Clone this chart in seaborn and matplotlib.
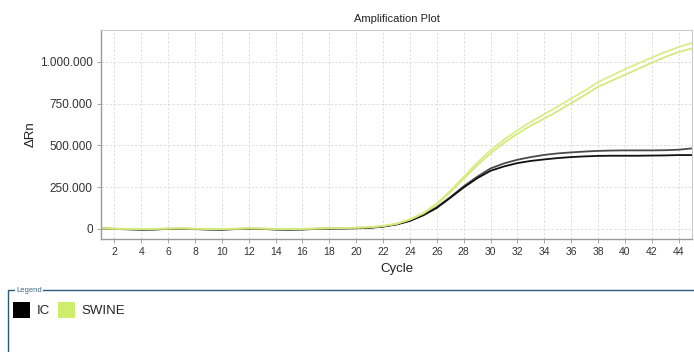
import numpy as np
import pandas as pd
import matplotlib
matplotlib.use("Agg")
import matplotlib.pyplot as plt
import seaborn as sns
from matplotlib.patches import Patch, Rectangle

# cycles 1..45, delta Rn values (in thousands)
cycles = list(range(1, 46))

ic_a = [3, 1, -1, -3, -2, 1, 2, 0, -2, -3, 0, 2, 1, -2, -3, -2, 1, 3, 4, 5, 8,
        15, 28, 50, 85, 130, 190, 255, 312, 362, 392, 414, 430, 443, 452, 458,
        463, 467, 469, 470, 470, 470, 471, 474, 482]
ic_b = [2, 0, -2, -4, -3, 0, 1, -1, -3, -4, -1, 1, 0, -3, -4, -3, 0, 2, 3, 4, 7,
        14, 27, 48, 82, 126, 186, 248, 303, 348, 374, 394, 407, 416, 424, 430,
        434, 437, 438, 438, 438, 439, 440, 442, 442]
swine_a = [4, 2, 1, 0, 1, 3, 4, 2, 1, 0, 2, 4, 3, 1, 0, 1, 3, 5, 6, 8, 11,
           18, 32, 58, 96, 152, 228, 312, 396, 470, 534, 590, 640, 686, 732,
           780, 826, 878, 916, 955, 990, 1025, 1058, 1088, 1112]
swine_b = [3, 1, 0, -1, 0, 2, 3, 1, 0, -1, 1, 3, 2, 0, -1, 0, 2, 4, 5, 7, 10,
           17, 30, 55, 92, 146, 220, 300, 380, 452, 515, 570, 618, 660, 704,
           752, 800, 850, 886, 922, 958, 994, 1028, 1058, 1080]

wells = {"IC A": ic_a, "IC B": ic_b, "SWINE A": swine_a, "SWINE B": swine_b}
colors = {"IC A": "#4a4a4a", "IC B": "#111111",
          "SWINE A": "#d8ee86", "SWINE B": "#d3ea7c"}

df = pd.concat([pd.DataFrame({"cycle": cycles, "dRn": np.array(v) * 1000, "well": k})
                for k, v in wells.items()])

sns.set_style("white")
plt.rcParams['font.family'] = ['Liberation Sans', 'DejaVu Sans']

fig = plt.figure(figsize=(6.94, 3.52), dpi=100)
ax = fig.add_axes([101 / 694, 1 - 239 / 352, 591 / 694, 209 / 352])

sns.lineplot(data=df, x="cycle", y="dRn", hue="well", palette=colors,
             linewidth=1.3, legend=False, ax=ax, sort=False)

ax.set_xlim(1, 45)
ax.set_ylim(-60000, 1190000)
ax.set_xticks(range(2, 45, 2))
ax.set_yticks([0, 250000, 500000, 750000, 1000000])
ax.set_yticklabels(["0", "250.000", "500.000", "750.000", "1.000.000"])

ax.grid(True, color="#dadada", linestyle=(0, (3, 2)), linewidth=0.6)
ax.set_axisbelow(True)
for side in ["top", "right"]:
    ax.spines[side].set_color("#cccccc")
    ax.spines[side].set_linewidth(0.8)
for side in ["left", "bottom"]:
    ax.spines[side].set_color("#999999")
    ax.spines[side].set_linewidth(1.0)
ax.tick_params(axis="both", labelsize=8.5, colors="#333333", length=3,
               width=0.6, direction="out", pad=3)
ax.tick_params(axis="both", color="#999999")
ax.tick_params(axis="x", bottom=True, labelsize=7.5)
ax.tick_params(axis="y", left=True)

ax.set_title("Amplification Plot", fontsize=8, color="#222222", pad=6)
ax.set_xlabel("Cycle", fontsize=9.5, color="#222222", labelpad=4)
ax.set_ylabel("ΔRn", fontsize=9.5, color="#222222", labelpad=2)

# legend panel
W, H = 694, 352
top = 1 - 290 / H
fig.add_artist(Rectangle((8 / W, -0.2), 700 / W, top + 0.2, transform=fig.transFigure,
                         fill=False, edgecolor="#2b5a78", linewidth=1.0))
fig.text(16 / W, top, "Legend", fontsize=5.5, color="#3a6a8a",
         ha="left", va="center",
         bbox=dict(facecolor="white", edgecolor="none", pad=1.0))

handles = [Patch(facecolor="#000000", edgecolor="none", label="IC"),
           Patch(facecolor="#cdee6a", edgecolor="none", label="SWINE")]
fig.legend(handles=handles, loc="upper left", bbox_to_anchor=(10 / W, 1 - 299 / H),
           ncol=2, frameon=False, fontsize=9.5, handlelength=1.35, handleheight=1.5,
           handletextpad=0.45, columnspacing=0.6, borderaxespad=0, borderpad=0.2)

fig.savefig("out.png", dpi=100)
